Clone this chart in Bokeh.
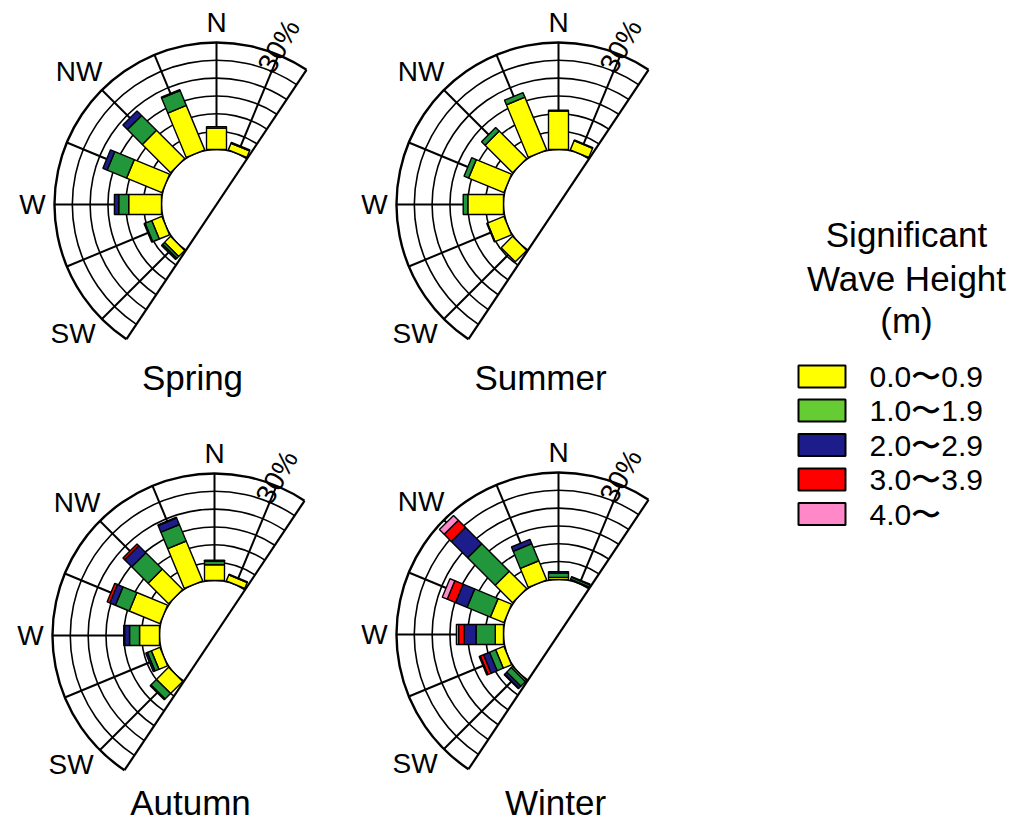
import numpy as np
from bokeh.plotting import figure
from bokeh.models import Range1d
from bokeh.embed import file_html
from bokeh.resources import INLINE
from bokeh.core.properties import value

# ---------------- data ----------------
seasons = ["Spring", "Summer", "Autumn", "Winter"]
directions = ["SW", "WSW", "W", "WNW", "NW", "NNW", "N", "NNE"]
bearings = [225.0, 247.5, 270.0, 292.5, 315.0, 337.5, 0.0, 22.5]
compass_labels = ["N", "NW", "W", "SW"]
compass_bearings = [0.0, 314.0, 270.0, 228.0]
ring_levels = [5, 10, 15, 20, 25, 30]
ring_label = "30%"
class_labels = ["0.0\u301c0.9", "1.0\u301c1.9", "2.0\u301c2.9", "3.0\u301c3.9", "4.0\u301c"]
legend_title = ["Significant", "Wave Height", "(m)"]

# frequency (%) per direction, order = directions
spring_h0 = [2.4, 3.1, 9.2, 10.7, 11.2, 13.5, 6.0, 2.0]
spring_h1 = [0.7, 2.0, 2.8, 5.9, 5.9, 4.5, 0.4, 0.3]
spring_h2 = [0.5, 0.3, 1.2, 1.3, 1.8, 0.3, 0.0, 0.0]
spring_h3 = [0.0, 0.0, 0.0, 0.0, 0.0, 0.0, 0.0, 0.0]
spring_h4 = [0.0, 0.0, 0.0, 0.0, 0.0, 0.0, 0.0, 0.0]

summer_h0 = [4.5, 5.0, 10.0, 10.7, 10.9, 16.0, 10.8, 2.8]
summer_h1 = [0.0, 0.2, 1.3, 1.4, 1.4, 1.4, 0.2, 0.2]
summer_h2 = [0.0, 0.0, 0.0, 0.0, 0.0, 0.0, 0.0, 0.0]
summer_h3 = [0.0, 0.0, 0.0, 0.0, 0.0, 0.0, 0.0, 0.0]
summer_h4 = [0.0, 0.0, 0.0, 0.0, 0.0, 0.0, 0.0, 0.0]

autumn_h0 = [4.8, 2.6, 5.6, 9.3, 8.1, 12.1, 4.4, 1.8]
autumn_h1 = [2.2, 1.2, 2.8, 4.2, 6.5, 5.0, 1.0, 0.2]
autumn_h2 = [0.3, 0.5, 1.4, 1.7, 2.8, 2.0, 0.3, 0.0]
autumn_h3 = [0.0, 0.0, 0.2, 0.8, 0.7, 0.2, 0.0, 0.0]
autumn_h4 = [0.0, 0.0, 0.0, 0.0, 0.0, 0.0, 0.0, 0.0]

winter_h0 = [0.5, 2.5, 2.3, 4.1, 6.9, 5.8, 0.6, 0.2]
winter_h1 = [1.8, 1.9, 5.4, 7.1, 10.9, 5.2, 1.2, 0.6]
winter_h2 = [0.8, 1.8, 3.3, 3.5, 6.5, 1.3, 0.4, 0.2]
winter_h3 = [0.2, 1.0, 1.6, 2.5, 2.8, 0.0, 0.0, 0.0]
winter_h4 = [0.0, 0.3, 0.6, 1.5, 1.9, 0.0, 0.0, 0.0]

season_data = {
    "Spring": [spring_h0, spring_h1, spring_h2, spring_h3, spring_h4],
    "Summer": [summer_h0, summer_h1, summer_h2, summer_h3, summer_h4],
    "Autumn": [autumn_h0, autumn_h1, autumn_h2, autumn_h3, autumn_h4],
    "Winter": [winter_h0, winter_h1, winter_h2, winter_h3, winter_h4],
}

# ---------------- style / layout ----------------
class_colors = ["#ffff00", "#21963a", "#1c1c8a", "#ff0000", "#ff88c8"]
legend_colors = ["#ffff00", "#66cc33", "#1c1c8a", "#ff0000", "#ff88c8"]
centers = {"Spring": (216, 204), "Summer": (558, 204),
           "Autumn": (214, 635), "Winter": (558, 634)}
title_pos = {"Spring": (192, 377), "Summer": (540, 377),
             "Autumn": (190, 802), "Winter": (555, 802)}
HOLE = 55.0
OUTER = 162.0
SCALE = (OUTER - HOLE) / ring_levels[-1]
BAR_W = 20.0
A0, A1 = np.radians(56.25), np.radians(236.25)   # sector (math angles)
label_r = {"N": 182, "NW": 191, "W": 184, "SW": 193}
FONT = value("Liberation Sans")

W, H = 1008, 821
p = figure(width=W, height=H, x_range=Range1d(0, W), y_range=Range1d(-H, 0),
           output_backend="svg", toolbar_location=None,
           x_axis_location=None, y_axis_location=None, min_border=0)
p.outline_line_color = None
p.grid.visible = False
p.background_fill_color = "white"
p.border_fill_color = "white"


def pt(c, r, bearing_deg):
    b = np.radians(bearing_deg)
    return c[0] + r * np.sin(b), -c[1] + r * np.cos(b)


for s in seasons:
    c = centers[s]
    cx, cy = c[0], -c[1]
    # rings
    radii = [HOLE + lv * SCALE for lv in ring_levels]
    p.arc(x=[cx] * len(radii[:-1]), y=[cy] * len(radii[:-1]), radius=radii[:-1],
          start_angle=A0, end_angle=A1, line_color="black", line_width=1.6)
    p.arc(x=[cx], y=[cy], radius=[radii[-1]], start_angle=A0, end_angle=A1,
          line_color="black", line_width=2.4)
    # spokes
    xs0, ys0, xs1, ys1 = [], [], [], []
    for b in bearings:
        x0, y0 = pt(c, HOLE, b)
        x1, y1 = pt(c, OUTER, b)
        xs0.append(x0); ys0.append(y0); xs1.append(x1); ys1.append(y1)
    p.segment(x0=xs0, y0=ys0, x1=xs1, y1=ys1, line_color="black", line_width=2)
    # straight edge
    ex0, ey0 = pt(c, OUTER, 213.75)
    ex1, ey1 = pt(c, OUTER, 33.75)
    p.segment(x0=[ex0], y0=[ey0], x1=[ex1], y1=[ey1], line_color="black", line_width=2.2)
    # hole arc
    p.arc(x=[cx], y=[cy], radius=[HOLE], start_angle=A0, end_angle=A1,
          line_color="black", line_width=1.6)
    # bars
    pxs, pys, cols = [], [], []
    classes = season_data[s]
    for i, b in enumerate(bearings):
        cum = 0.0
        br = np.radians(b)
        u = np.array([np.sin(br), np.cos(br)])
        n = np.array([np.cos(br), -np.sin(br)])
        for k in range(len(classes)):
            v = classes[k][i]
            if v <= 0:
                continue
            r0 = HOLE + cum * SCALE
            r1 = HOLE + (cum + v) * SCALE
            cum += v
            base = np.array([cx, cy])
            pts = [base + u * r0 + n * BAR_W / 2, base + u * r1 + n * BAR_W / 2,
                   base + u * r1 - n * BAR_W / 2, base + u * r0 - n * BAR_W / 2]
            pxs.append([q[0] for q in pts]); pys.append([q[1] for q in pts])
            cols.append(class_colors[k])
    p.patches(xs=pxs, ys=pys, fill_color=cols, line_color="black", line_width=1.4)
    # compass labels
    lx, ly = [], []
    for lab, b in zip(compass_labels, compass_bearings):
        x, y = pt(c, label_r[lab], b)
        lx.append(x); ly.append(y)
    p.text(x=lx, y=ly, text=compass_labels, text_font=FONT, text_font_size="28px",
           text_align="center", text_baseline="middle", text_color="black")
    # 30% label
    tx, ty = pt(c, 170, 21.5)
    p.text(x=[tx], y=[ty], text=[ring_label], angle=np.radians(60), text_font=FONT,
           text_font_size="28px", text_align="center", text_baseline="middle",
           text_color="black")
    # title
    t = title_pos[s]
    p.text(x=[t[0]], y=[-t[1]], text=[s], text_font=FONT, text_font_size="35px",
           text_align="center", text_baseline="middle", text_color="black")

# legend
title_mid = [234, 278, 320]
p.text(x=[906] * 3, y=[-v for v in title_mid], text=legend_title, text_font=FONT,
       text_font_size="35px", text_align="center", text_baseline="middle",
       text_color="black")
row_y = [376, 410, 444.5, 479, 513.5]
p.rect(x=[821.5] * 5, y=[-v for v in row_y], width=47, height=22,
       fill_color=legend_colors, line_color="black", line_width=2)
p.text(x=[869] * 5, y=[-v for v in row_y], text=class_labels, text_font=FONT,
       text_font_size="30px", text_align="left", text_baseline="middle",
       text_color="black")

open("out.html", "w").write(file_html(p, INLINE))
